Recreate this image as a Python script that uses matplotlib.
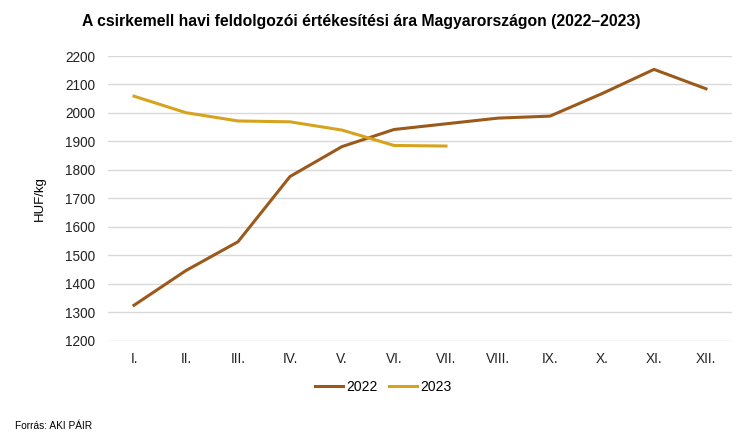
import matplotlib.pyplot as plt

plt.rcParams['font.family'] = ['Liberation Sans', 'DejaVu Sans']

months = ['I.', 'II.', 'III.', 'IV.', 'V.', 'VI.', 'VII.', 'VIII.', 'IX.', 'X.', 'XI.', 'XII.']
values_2022 = [1325, 1447, 1548, 1777, 1882, 1942, 1962, 1982, 1989, 2068, 2153, 2085]
values_2023 = [2059, 2001, 1972, 1969, 1940, 1886, 1884]

fig = plt.figure(figsize=(7.5, 4.41), dpi=100)
ax = fig.add_axes([0.144, 0.227, 0.832, 0.646])

x = list(range(len(months)))
ax.plot(x, values_2022, color='#9b5a1c', linewidth=2.2, label='2022')
ax.plot(x[:len(values_2023)], values_2023, color='#d6a31e', linewidth=2.2, label='2023')

ax.set_xlim(-0.5, len(months) - 0.5)
ax.set_ylim(1200, 2200)
ax.set_yticks(range(1200, 2201, 100))
ax.set_xticks(x)
ax.set_xticklabels(months)
ax.tick_params(axis='both', length=0, labelsize=9.8, colors='#222222')
ax.tick_params(axis='x', pad=8)
ax.tick_params(axis='y', pad=9)
ax.grid(axis='y', color='#d9d9d9', linewidth=1)
ax.set_axisbelow(True)
for s in ax.spines.values():
    s.set_visible(False)

ax.set_ylabel('HUF/kg', fontsize=9.5, labelpad=14)
fig.text(0.481, 0.952, 'A csirkemell havi feldolgozói értékesítési ára Magyarországon (2022–2023)',
         ha='center', va='center', fontsize=11.3, fontweight='bold')
fig.legend(loc='center', bbox_to_anchor=(0.511, 0.123), ncol=2, frameon=False, fontsize=10,
           handlelength=2.0, handletextpad=0.25, columnspacing=0.8)
fig.text(0.02, 0.035, 'Forrás: AKI PÁIR', fontsize=7.3, va='center')

fig.savefig('out.png', dpi=100)
